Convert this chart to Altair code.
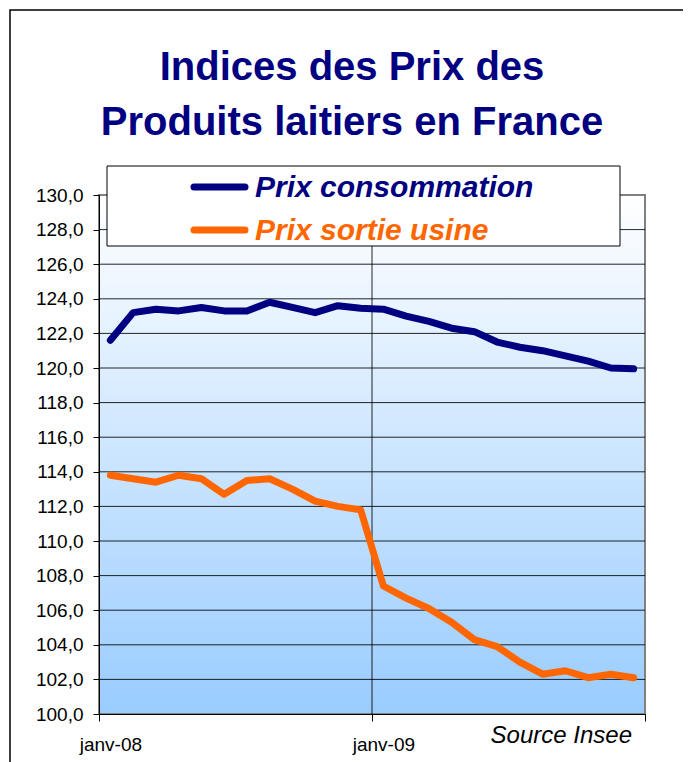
import altair as alt
import pandas as pd

# ---- data ----
months = ["janv-08", "févr-08", "mars-08", "avr-08", "mai-08", "juin-08",
          "juil-08", "août-08", "sept-08", "oct-08", "nov-08", "déc-08",
          "janv-09", "févr-09", "mars-09", "avr-09", "mai-09", "juin-09",
          "juil-09", "août-09", "sept-09", "oct-09", "nov-09", "déc-09"]
prix_consommation = [121.6, 123.2, 123.4, 123.3, 123.5, 123.3, 123.3, 123.8,
                     123.5, 123.2, 123.6, 123.45, 123.4, 123.0, 122.7, 122.3,
                     122.1, 121.5, 121.2, 121.0, 120.7, 120.4, 120.0, 119.95]
prix_sortie_usine = [113.8, 113.6, 113.4, 113.8, 113.6, 112.7, 113.5, 113.6,
                     113.0, 112.3, 112.0, 111.8, 107.4, 106.7, 106.1, 105.3,
                     104.3, 103.9, 103.0, 102.3, 102.5, 102.1, 102.3, 102.1]
series_names = ["Prix consommation", "Prix sortie usine"]
series_colors = ["#000080", "#FF6600"]
x_tick_labels = ["janv-08", "janv-09"]
y_ticks = [100, 102, 104, 106, 108, 110, 112, 114, 116, 118, 120, 122, 124, 126, 128, 130]
title_lines = ["Indices des Prix des", "Produits laitiers en France"]
source_text = "Source Insee"

FONT = "Liberation Sans, Arial, sans-serif"
W, H = 546, 519
N = len(months)

rows = []
for name, vals in zip(series_names, [prix_consommation, prix_sortie_usine]):
    for i, (m, v) in enumerate(zip(months, vals)):
        rows.append({"mois": m, "pos": i + 0.5, "value": v, "series": name})
df = pd.DataFrame(rows)

x_scale = alt.Scale(domain=[0, N], nice=False, zero=False)
y_scale = alt.Scale(domain=[100, 130], nice=False, zero=False)

label_expr = ("datum.value == 0 ? '%s' : datum.value == 12 ? '%s' : ''"
              % (x_tick_labels[0], x_tick_labels[1]))
x_axis = alt.Axis(values=[0, 12, 24], labelExpr=label_expr, title=None, grid=False,
                  domainColor="#000000", tickColor="#000000", tickSize=7,
                  labelFont=FONT, labelFontSize=19, labelColor="#000000",
                  labelPadding=14, labelOffset=W / N / 2, labelFlush=False,
                  labelAlign="center", zindex=1)
y_axis = alt.Axis(values=y_ticks,
                  labelExpr="replace(format(datum.value, '.1f'), '.', ',')",
                  title=None, grid=False, domainColor="#000000", tickColor="#000000",
                  tickSize=6, labelFont=FONT, labelFontSize=19, labelColor="#000000",
                  labelPadding=10, zindex=1)

one = pd.DataFrame({"a": [0]})

# outer frame of the chart
frame = alt.Chart(one).mark_rect(fill=None, stroke="#000000", strokeWidth=1.5).encode(
    x=alt.value(10 - 99), x2=alt.value(W + 200), y=alt.value(10 - 195), y2=alt.value(H + 200))

# plot area gradient background
bg = alt.Chart(one).mark_rect(
    color=alt.LinearGradient(gradient="linear", x1=0, x2=0, y1=0, y2=1,
                             stops=[alt.GradientStop(color="#FFFFFF", offset=0),
                                    alt.GradientStop(color="#99CCFF", offset=1)]),
    stroke="#808080", strokeWidth=2).encode(
    x=alt.value(0), x2=alt.value(W), y=alt.value(0), y2=alt.value(H))

grid_h = alt.Chart(pd.DataFrame({"value": y_ticks[1:-1]})).mark_rule(
    color="#000000", strokeWidth=1, opacity=0.85).encode(
    y=alt.Y("value:Q", scale=y_scale, axis=y_axis))

grid_v = alt.Chart(pd.DataFrame({"pos": [12]})).mark_rule(
    color="#000000", strokeWidth=1, opacity=0.85).encode(
    x=alt.X("pos:Q", scale=x_scale, axis=x_axis))

lines = alt.Chart(df).mark_line(strokeWidth=7, strokeJoin="round", strokeCap="round").encode(
    x=alt.X("pos:Q", scale=x_scale, axis=x_axis),
    y=alt.Y("value:Q", scale=y_scale, axis=y_axis),
    color=alt.Color("series:N", scale=alt.Scale(domain=series_names, range=series_colors),
                    legend=None),
    detail="series:N")

# legend box
leg_box = alt.Chart(one).mark_rect(fill="#FFFFFF", stroke="#000000", strokeWidth=1).encode(
    x=alt.value(8), x2=alt.value(521), y=alt.value(-29), y2=alt.value(51))

legend_layers = []
row_y = [-8, 35]
for k, (name, col) in enumerate(zip(series_names, series_colors)):
    ldf = pd.DataFrame({"series": [name]})
    legend_layers.append(
        alt.Chart(ldf).mark_rule(color=col, strokeWidth=7, strokeCap="round").encode(
            x=alt.value(95), x2=alt.value(146), y=alt.value(row_y[k])))
    legend_layers.append(
        alt.Chart(ldf).mark_text(font=FONT, fontSize=30, fontWeight="bold",
                                 fontStyle="italic", align="left", baseline="middle",
                                 color=col).encode(
            x=alt.value(156), y=alt.value(row_y[k] + 1), text="series:N"))

title_layers = []
title_y = [80 - 195, 135 - 195]
for k, line in enumerate(title_lines):
    title_layers.append(
        alt.Chart(pd.DataFrame({"t": [line]})).mark_text(
            font=FONT, fontSize=40, fontWeight="bold", color="#000080",
            align="center", baseline="alphabetic").encode(
            x=alt.value(352 - 99), y=alt.value(title_y[k]), text="t:N"))

source = alt.Chart(pd.DataFrame({"t": [source_text]})).mark_text(
    font=FONT, fontSize=24, fontStyle="italic", color="#000000",
    align="right", baseline="alphabetic").encode(
    x=alt.value(632 - 99), y=alt.value(743 - 195), text="t:N")

chart = alt.layer(frame, bg, grid_h, grid_v, lines, leg_box, *legend_layers,
                  *title_layers, source).properties(
    width=W, height=H,
    padding={"left": 91, "top": 187, "right": 38, "bottom": 48},
    autosize=alt.AutoSizeParams(type="none"),
    background="#FFFFFF",
).configure_view(stroke=None)

chart.save("out.html", embed_options={"renderer": "svg", "actions": False})
